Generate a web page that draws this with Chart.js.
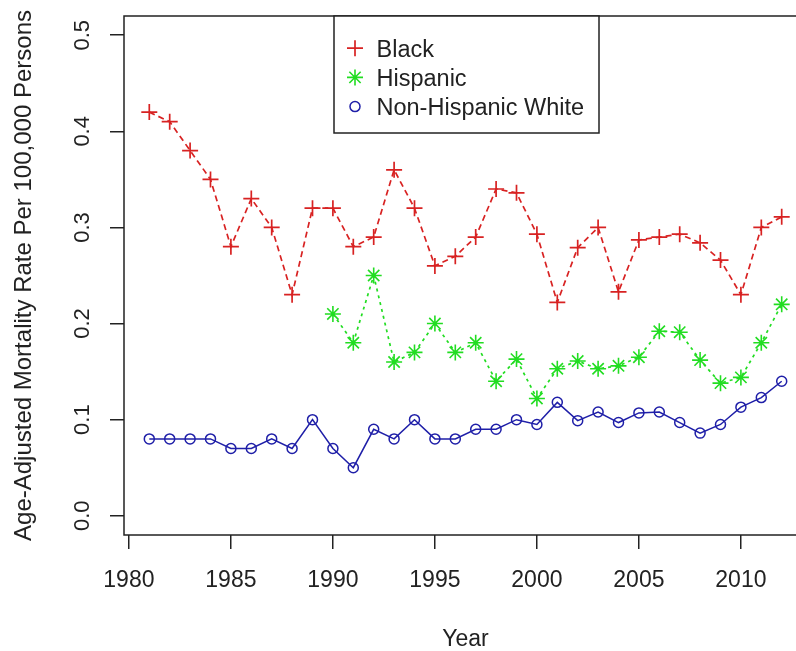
<!DOCTYPE html>
<html>
<head>
<meta charset="utf-8">
<script src="https://cdn.jsdelivr.net/npm/chart.js@4.4.1/dist/chart.umd.min.js"></script>
<style>
  html, body { margin: 0; padding: 0; background: #fff; overflow: hidden; }
  #wrap { position: absolute; left: 0; top: 0; width: 820px; height: 651px; }
</style>
</head>
<body>
<div id="wrap"><canvas id="chart" width="820" height="651"></canvas></div>
<script>
const years = [1981, 1982, 1983, 1984, 1985, 1986, 1987, 1988, 1989, 1990,
  1991, 1992, 1993, 1994, 1995, 1996, 1997, 1998, 1999, 2000,
  2001, 2002, 2003, 2004, 2005, 2006, 2007, 2008, 2009, 2010, 2011, 2012];
const black = [0.42, 0.41, 0.38, 0.35, 0.28, 0.33, 0.30, 0.23, 0.32, 0.32,
  0.28, 0.29, 0.36, 0.32, 0.26, 0.27, 0.29, 0.34, 0.336, 0.293,
  0.222, 0.279, 0.30, 0.233, 0.287, 0.29, 0.293, 0.284, 0.266, 0.23, 0.30, 0.311];
const hispanic = [null, null, null, null, null, null, null, null, null, 0.21,
  0.18, 0.25, 0.16, 0.17, 0.20, 0.17, 0.18, 0.14, 0.163, 0.122,
  0.153, 0.161, 0.153, 0.156, 0.165, 0.192, 0.191, 0.162, 0.138, 0.144, 0.18, 0.22];
const white = [0.08, 0.08, 0.08, 0.08, 0.07, 0.07, 0.08, 0.07, 0.10, 0.07,
  0.05, 0.09, 0.08, 0.10, 0.08, 0.08, 0.09, 0.09, 0.10, 0.095,
  0.118, 0.099, 0.108, 0.097, 0.107, 0.108, 0.097, 0.086, 0.095, 0.113, 0.123, 0.14];
const seriesNames = ["Black", "Hispanic", "Non-Hispanic White"];
const xTicks = [1980, 1985, 1990, 1995, 2000, 2005, 2010];
const yTicks = [0.0, 0.1, 0.2, 0.3, 0.4, 0.5];

const FONT = "'Liberation Sans', Arial, sans-serif";
const INK = "#222";

const toPoints = vals => years.map((y, i) => ({ x: y, y: vals[i] }));

// box round the plot area, like R's box()
const frame = {
  id: "frame",
  afterDatasetsDraw(chart) {
    const { ctx, chartArea: a } = chart;
    ctx.save();
    ctx.strokeStyle = INK;
    ctx.lineWidth = 1.5;
    ctx.strokeRect(a.left, a.top, a.right - a.left, a.bottom - a.top);
    ctx.restore();
  }
};

// R style legend box
const rLegend = {
  id: "rLegend",
  afterDraw(chart) {
    const { ctx } = chart;
    const box = { x: 334, y: 16, w: 265, h: 117 };
    ctx.save();
    ctx.fillStyle = "#fff";
    ctx.fillRect(box.x, box.y, box.w, box.h);
    ctx.strokeStyle = INK;
    ctx.lineWidth = 1.5;
    ctx.strokeRect(box.x, box.y, box.w, box.h);
    chart.data.datasets.forEach((ds, i) => {
      const base = 56.7 + i * 29.2;
      ctx.strokeStyle = ds.borderColor;
      ctx.fillStyle = "rgba(0,0,0,0)";
      ctx.lineWidth = ds.pointBorderWidth;
      ctx.setLineDash([]);
      Chart.helpers.drawPoint(ctx, {
        pointStyle: ds.pointStyle, radius: ds.pointRadius, rotation: 0,
        borderWidth: ds.pointBorderWidth
      }, 355, base - 8.5);
      ctx.fillStyle = INK;
      ctx.font = "23.5px " + FONT;
      ctx.textAlign = "left";
      ctx.textBaseline = "alphabetic";
      ctx.fillText(ds.label, 376.5, base);
    });
    ctx.restore();
  }
};

const noPad = s => { s.paddingTop = 0; s.paddingBottom = 0; s.paddingLeft = 0; s.paddingRight = 0; };

new Chart(document.getElementById("chart"), {
  type: "line",
  data: {
    datasets: [
      {
        label: seriesNames[0], data: toPoints(black),
        borderColor: "#d82222", backgroundColor: "rgba(0,0,0,0)",
        borderWidth: 1.7, borderDash: [6, 4],
        pointStyle: "cross", pointRadius: 8, pointBorderWidth: 1.7
      },
      {
        label: seriesNames[1], data: toPoints(hispanic),
        borderColor: "#22dd22", backgroundColor: "rgba(0,0,0,0)",
        borderWidth: 1.7, borderDash: [3, 4],
        pointStyle: "star", pointRadius: 8, pointBorderWidth: 1.6
      },
      {
        label: seriesNames[2], data: toPoints(white),
        borderColor: "#1f1fa8", backgroundColor: "rgba(0,0,0,0)",
        borderWidth: 1.5,
        pointStyle: "circle", pointRadius: 5, pointBorderWidth: 1.5
      }
    ]
  },
  options: {
    responsive: false,
    animation: false,
    devicePixelRatio: 1,
    layout: { padding: { top: 16, right: 13, bottom: 0, left: 0 } },
    plugins: { legend: { display: false }, tooltip: { enabled: false } },
    elements: { line: { tension: 0 } },
    scales: {
      x: {
        type: "linear", min: 1979.76, max: 2013.24,
        afterBuildTicks: s => { s.ticks = xTicks.map(v => ({ value: v })); },
        afterFit: s => { s.height = 116; noPad(s); },
        border: { display: false },
        grid: { drawOnChartArea: false, drawTicks: true, tickLength: 14, color: INK, lineWidth: 1.5 },
        ticks: {
          autoSkip: false, maxRotation: 0, padding: 18, color: INK,
          font: { family: FONT, size: 23 },
          callback: v => String(v)
        },
        title: {
          display: true, text: "Year", color: INK,
          font: { family: FONT, size: 23, lineHeight: 1 },
          padding: { top: 0, bottom: 0 }
        }
      },
      y: {
        type: "linear", min: -0.02, max: 0.52,
        afterBuildTicks: s => { s.ticks = yTicks.map(v => ({ value: v })); },
        afterFit: s => { s.width = 124; noPad(s); },
        border: { display: false },
        grid: { drawOnChartArea: false, drawTicks: true, tickLength: 14, color: INK, lineWidth: 1.5 },
        ticks: {
          minRotation: 90, maxRotation: 90, crossAlign: "center", padding: 12, color: INK,
          font: { family: FONT, size: 22 },
          callback: v => v.toFixed(1)
        },
        title: {
          display: true, text: "Age-Adjusted Mortality Rate Per 100,000 Persons", color: INK,
          font: { family: FONT, size: 24, lineHeight: 1.2 },
          padding: { top: 10, bottom: 0 }
        }
      }
    }
  },
  plugins: [frame, rLegend]
});
</script>
</body>
</html>
